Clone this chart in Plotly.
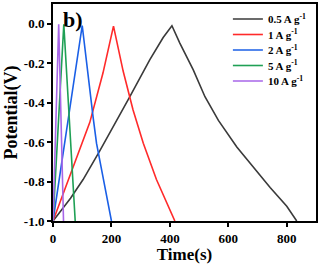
import plotly.graph_objects as go

# Series data (time in s, potential in V)
names = ["0.5 A g<sup>-1</sup>", "1 A g<sup>-1</sup>", "2 A g<sup>-1</sup>", "5 A g<sup>-1</sup>", "10 A g<sup>-1</sup>"]
colors = ["#3a3a3a", "#ff2a2a", "#1a5fe6", "#1fa055", "#a766e8"]

t_05 = [0, 60, 103, 160, 263, 331, 377, 407, 434, 480, 520, 566, 629, 686, 743, 800, 834]
v_05 = [-1.0, -0.885, -0.79, -0.645, -0.37, -0.183, -0.07, -0.01, -0.098, -0.234, -0.37, -0.49, -0.625, -0.73, -0.83, -0.925, -1.0]

t_1 = [0, 57, 126, 171, 207, 240, 274, 309, 354, 417]
v_1 = [-1.0, -0.775, -0.5, -0.25, -0.012, -0.24, -0.437, -0.606, -0.79, -1.0]

t_2 = [0, 51, 100, 137, 149, 171, 200]
v_2 = [-1.0, -0.5, -0.009, -0.471, -0.607, -0.776, -1.0]

t_5 = [0, 37, 76]
v_5 = [-1.0, -0.003, -1.0]

t_10 = [0, 19.5, 36]
v_10 = [-1.0, -0.003, -1.0]

series_t = [t_05, t_1, t_2, t_5, t_10]
series_v = [v_05, v_1, v_2, v_5, v_10]

x_ticks = [0, 200, 400, 600, 800]
y_ticks = [0.0, -0.2, -0.4, -0.6, -0.8, -1.0]

FONT = "Liberation Serif"
PLOT_TOP, PLOT_H = 4, 217
legend_rows_px = [19, 34.5, 50, 65.5, 81]

fig = go.Figure()
legend_ids = ["legend", "legend2", "legend3", "legend4", "legend5"]
for n, c, t, v, lid in zip(names, colors, series_t, series_v, legend_ids):
    fig.add_trace(go.Scatter(x=t, y=v, mode="lines", name=n, legend=lid,
                             line=dict(color=c, width=1.6)))

axis_common = dict(showline=True, linecolor="black", linewidth=2, mirror=True,
                   ticks="outside", ticklen=4, tickwidth=2, tickcolor="black",
                   showgrid=False, zeroline=False,
                   tickfont=dict(family=FONT, size=13, color="black", weight="bold"))

fig.update_xaxes(range=[0, 900], tickvals=x_ticks, ticktext=[str(v) for v in x_ticks],
                 title=dict(text="<b>Time(s)</b>", font=dict(family=FONT, size=17, color="black"), standoff=5),
                 **axis_common)
fig.update_yaxes(range=[-1.0, 0.1], tickvals=y_ticks, ticktext=["%.1f" % v for v in y_ticks],
                 title=dict(text="<b>Potential(V)</b>", font=dict(family=FONT, size=18, color="black"), standoff=2),
                 **axis_common)

fig.add_annotation(text="<b>b)</b>", xref="paper", yref="paper", x=0.03, y=0.995,
                   xanchor="left", yanchor="top", showarrow=False,
                   font=dict(family=FONT, size=22, color="black"))

legend_layout = {}
for lid, ypx in zip(legend_ids, legend_rows_px):
    legend_layout[lid] = dict(x=0.665, y=1 - (ypx - PLOT_TOP) / PLOT_H,
                              xanchor="left", yanchor="middle", bgcolor="rgba(0,0,0,0)",
                              font=dict(family=FONT, size=11, color="black", weight="bold"),
                              itemwidth=30, tracegroupgap=0)

fig.update_layout(
    width=321, height=264,
    margin=dict(l=53, r=5, t=PLOT_TOP, b=43, autoexpand=False),
    plot_bgcolor="white", paper_bgcolor="white",
    showlegend=True,
    **legend_layout,
)

fig.write_html("out.html", config={"displayModeBar": False},
               post_script="document.body.style.margin='0';document.body.style.padding='0';")
